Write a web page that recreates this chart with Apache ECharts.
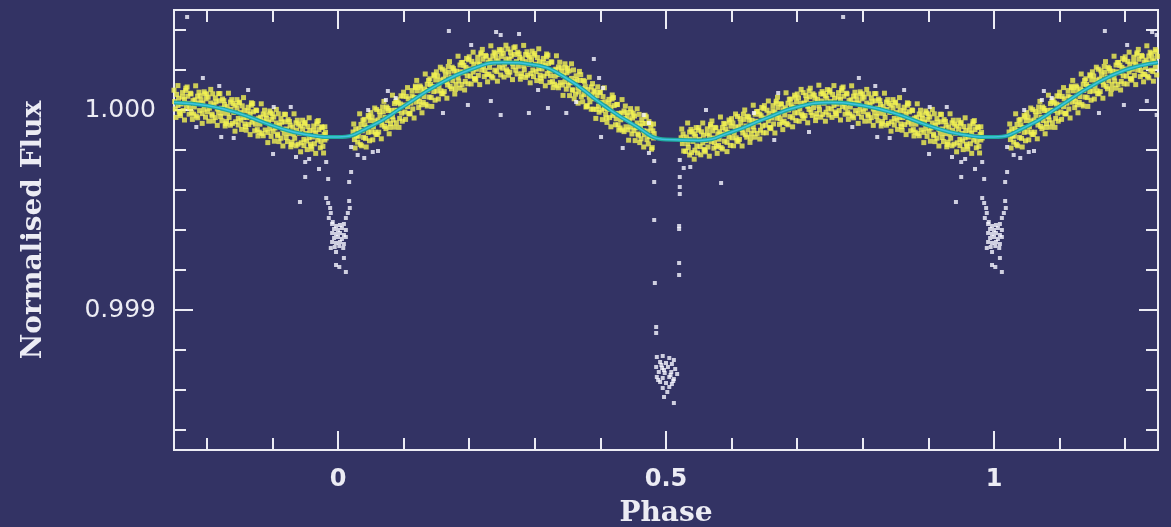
<!DOCTYPE html>
<html>
<head>
<meta charset="utf-8">
<script src="https://cdn.jsdelivr.net/npm/echarts@6/dist/echarts.min.js"></script>
<style>
html,body{margin:0;padding:0;background:#333364;}
#chart{width:1171px;height:527px;}
</style>
</head>
<body>
<div id="chart"></div>
<script>
// Model light curve (phase, normalised flux minus 1 in ppm)
const curvePhase = [-0.25,-0.2,-0.15,-0.1,-0.05,0,0.05,0.1,0.15,0.2,0.25,0.3,0.35,0.4,0.45,0.5,0.55,0.6,0.65,0.7,0.75,0.8,0.85,0.9,0.95,1,1.05,1.1,1.15,1.2,1.25];
const curvePpm = [37,22,-18,-78,-122,-135,-82,18,122,200,238,225,155,35,-72,-148,-152,-110,-45,15,37,22,-18,-78,-122,-135,-82,18,122,200,238];

// Out-of-eclipse observations (phase, flux - 1 in ppm), phases -0.25 .. 0.75
const bandPoints = [
[-0.249,42],[-0.248,5],[-0.246,78],[-0.244,23],[-0.243,59],[-0.241,-18],
[-0.239,30],[-0.237,65],[-0.236,-3],[-0.234,52],[-0.232,98],[-0.231,18],
[-0.229,69],[-0.228,33],[-0.226,10],[-0.225,84],[-0.223,-13],[-0.221,47],
[-0.219,15],[-0.218,51],[-0.216,-30],[-0.214,69],[-0.213,34],[-0.211,-3],
[-0.209,50],[-0.207,-18],[-0.206,34],[-0.204,4],[-0.203,81],[-0.201,56],
[-0.199,-9],[-0.198,64],[-0.196,9],[-0.194,35],[-0.192,-21],[-0.191,81],
[-0.189,26],[-0.187,-38],[-0.186,41],[-0.184,5],[-0.182,-14],[-0.181,46],
[-0.179,-33],[-0.178,9],[-0.176,55],[-0.175,-16],[-0.173,27],[-0.171,-69],
[-0.169,17],[-0.168,-16],[-0.166,-37],[-0.164,40],[-0.163,3],[-0.161,-67],
[-0.159,-12],[-0.157,24],[-0.156,-59],[-0.154,10],[-0.152,-42],[-0.151,35],
[-0.149,-13],[-0.148,-51],[-0.146,21],[-0.144,-37],[-0.143,-2],[-0.141,-83],
[-0.139,-38],[-0.137,-5],[-0.136,-73],[-0.134,-21],[-0.132,24],[-0.131,-61],
[-0.129,-9],[-0.128,-46],[-0.126,-71],[-0.125,0],[-0.123,-98],[-0.121,-41],
[-0.119,-71],[-0.118,-36],[-0.116,-118],[-0.114,-20],[-0.113,-55],[-0.111,-100],
[-0.109,-42],[-0.107,-112],[-0.106,-61],[-0.104,-91],[-0.103,-15],[-0.101,-47],
[-0.099,-107],[-0.098,-35],[-0.096,-90],[-0.094,-65],[-0.092,-121],[-0.091,-19],
[-0.089,-76],[-0.087,-141],[-0.086,-61],[-0.084,-96],[-0.082,-116],[-0.081,-59],
[-0.079,-138],[-0.078,-95],[-0.076,-48],[-0.075,-118],[-0.073,-76],[-0.071,-173],
[-0.069,-86],[-0.068,-120],[-0.066,-141],[-0.064,-64],[-0.063,-101],[-0.061,-171],
[-0.059,-116],[-0.057,-80],[-0.056,-164],[-0.054,-95],[-0.052,-147],[-0.051,-69],
[-0.049,-117],[-0.048,-155],[-0.046,-83],[-0.044,-139],[-0.043,-103],[-0.041,-181],
[-0.039,-135],[-0.037,-101],[-0.036,-169],[-0.034,-115],[-0.032,-70],[-0.031,-150],
[-0.029,-98],[-0.028,-134],[-0.026,-158],[-0.025,-84],[-0.023,-182],[-0.021,-122],
[-0.020,-150],[-0.019,-112],[-0.018,-140],
[0.023,-110],[0.025,-148],[0.027,-95],[0.028,-130],
[0.031,-131],[0.032,-94],[0.034,-172],[0.035,-72],[0.037,-104],[0.039,-137],
[0.041,-74],[0.042,-142],[0.044,-88],[0.046,-112],[0.047,-35],[0.049,-53],
[0.051,-109],[0.052,-36],[0.054,-84],[0.056,-55],[0.057,-111],[0.059,2],
[0.061,-50],[0.062,-111],[0.064,-27],[0.066,-59],[0.067,-75],[0.069,-9],
[0.071,-82],[0.072,-37],[0.074,15],[0.075,-53],[0.077,-3],[0.079,-87],
[0.081,-2],[0.083,-33],[0.084,-50],[0.086,32],[0.087,-1],[0.089,-64],
[0.091,-3],[0.092,36],[0.094,-42],[0.095,30],[0.097,-16],[0.099,69],
[0.101,25],[0.102,-10],[0.104,68],[0.106,17],[0.107,56],[0.109,-17],
[0.111,34],[0.113,71],[0.114,5],[0.116,63],[0.118,112],[0.119,39],
[0.121,96],[0.122,60],[0.124,43],[0.125,120],[0.127,26],[0.129,90],
[0.131,67],[0.132,105],[0.134,28],[0.136,129],[0.137,98],[0.139,65],
[0.141,128],[0.142,62],[0.144,118],[0.146,92],[0.147,171],[0.149,150],
[0.151,95],[0.152,170],[0.154,119],[0.156,149],[0.157,96],[0.159,204],
[0.161,154],[0.162,92],[0.164,175],[0.166,141],[0.167,125],[0.169,189],
[0.171,118],[0.172,163],[0.174,214],[0.175,146],[0.177,195],[0.179,103],
[0.181,194],[0.183,164],[0.184,145],[0.186,225],[0.187,191],[0.189,128],
[0.191,186],[0.192,223],[0.194,143],[0.195,213],[0.197,171],[0.199,251],
[0.201,205],[0.202,169],[0.204,243],[0.206,190],[0.207,229],[0.209,155],
[0.211,204],[0.213,241],[0.214,173],[0.216,229],[0.218,279],[0.219,200],
[0.221,254],[0.222,219],[0.224,197],[0.225,273],[0.227,178],[0.229,240],
[0.231,213],[0.232,249],[0.234,169],[0.236,270],[0.237,235],[0.239,199],
[0.241,259],[0.242,192],[0.244,245],[0.246,215],[0.247,292],[0.249,268],
[0.251,209],[0.252,283],[0.254,229],[0.256,256],[0.257,201],[0.259,305],
[0.261,252],[0.262,189],[0.264,269],[0.266,234],[0.267,216],[0.269,278],
[0.271,199],[0.272,242],[0.274,289],[0.275,219],[0.277,263],[0.279,168],
[0.281,255],[0.283,221],[0.284,201],[0.286,278],[0.287,242],[0.289,174],
[0.291,229],[0.292,265],[0.294,182],[0.295,251],[0.297,200],[0.299,274],
[0.301,229],[0.302,192],[0.304,262],[0.306,207],[0.307,241],[0.309,160],
[0.311,205],[0.313,238],[0.314,169],[0.316,222],[0.318,266],[0.319,182],
[0.321,233],[0.322,197],[0.324,171],[0.325,241],[0.327,142],[0.329,199],
[0.331,169],[0.332,204],[0.334,121],[0.336,215],[0.337,177],[0.339,137],
[0.341,194],[0.342,125],[0.344,173],[0.346,142],[0.347,211],[0.349,186],
[0.351,124],[0.352,195],[0.354,136],[0.356,158],[0.357,101],[0.359,200],
[0.361,142],[0.362,79],[0.364,151],[0.366,112],[0.367,90],[0.369,148],
[0.371,66],[0.372,106],[0.374,148],[0.375,77],[0.377,117],[0.379,18],
[0.381,102],[0.383,64],[0.384,41],[0.386,115],[0.387,76],[0.389,4],
[0.391,56],[0.392,90],[0.394,3],[0.395,71],[0.397,19],[0.399,90],
[0.401,38],[0.402,-1],[0.404,67],[0.406,8],[0.407,41],[0.409,-40],
[0.411,3],[0.413,34],[0.414,-38],[0.416,12],[0.418,55],[0.419,-27],
[0.421,22],[0.422,-17],[0.424,-44],[0.425,28],[0.427,-74],[0.429,-17],
[0.431,-49],[0.432,-15],[0.434,-100],[0.436,-5],[0.437,-43],[0.439,-84],
[0.441,-29],[0.442,-99],[0.444,-51],[0.446,-85],[0.447,-11],[0.449,-40],
[0.451,-103],[0.452,-30],[0.454,-89],[0.456,-65],[0.457,-120],[0.459,-22],
[0.461,-80],[0.462,-144],[0.464,-67],[0.466,-104],[0.467,-123],[0.469,-67],
[0.471,-148],[0.472,-106],[0.474,-58],[0.475,-133],[0.477,-91],[0.479,-188],
[0.480,-104],[0.481,-140],[0.482,-118],
[0.523,-139],[0.525,-168],[0.526,-120],[0.528,-150],
[0.531,-135],[0.533,-168],[0.534,-188],[0.536,-110],[0.537,-146],[0.539,-213],
[0.541,-157],[0.543,-120],[0.544,-201],[0.545,-131],[0.547,-180],[0.549,-101],
[0.551,-147],[0.552,-183],[0.554,-109],[0.556,-164],[0.557,-126],[0.559,-202],
[0.561,-153],[0.563,-118],[0.564,-185],[0.566,-128],[0.568,-81],[0.569,-159],
[0.571,-104],[0.572,-140],[0.574,-163],[0.575,-87],[0.577,-183],[0.579,-119],
[0.581,-146],[0.582,-109],[0.584,-188],[0.586,-88],[0.587,-122],[0.589,-156],
[0.591,-96],[0.593,-162],[0.594,-111],[0.596,-136],[0.597,-61],[0.599,-81],
[0.601,-139],[0.602,-65],[0.604,-115],[0.606,-85],[0.607,-139],[0.609,-32],
[0.611,-85],[0.612,-147],[0.614,-65],[0.616,-98],[0.617,-115],[0.619,-47],
[0.621,-124],[0.622,-80],[0.624,-31],[0.625,-98],[0.627,-51],[0.629,-140],
[0.631,-51],[0.633,-83],[0.634,-102],[0.636,-21],[0.637,-56],[0.639,-117],
[0.641,-60],[0.643,-21],[0.644,-101],[0.645,-29],[0.647,-80],[0.649,7],
[0.651,-40],[0.652,-76],[0.654,-1],[0.656,-54],[0.657,-18],[0.659,-89],
[0.661,-40],[0.663,-3],[0.664,-70],[0.666,-11],[0.668,35],[0.669,-41],
[0.671,13],[0.672,-22],[0.674,-44],[0.675,31],[0.677,-63],[0.679,1],
[0.681,-25],[0.682,11],[0.684,-68],[0.686,34],[0.687,0],[0.689,-33],
[0.691,27],[0.693,-39],[0.694,14],[0.696,-14],[0.697,64],[0.699,41],
[0.701,-14],[0.702,60],[0.704,7],[0.706,34],[0.707,-20],[0.709,87],
[0.711,34],[0.712,-28],[0.714,53],[0.716,19],[0.718,3],[0.719,66],
[0.721,-12],[0.722,32],[0.724,81],[0.725,12],[0.727,59],[0.729,-35],
[0.731,53],[0.733,21],[0.734,1],[0.736,80],[0.737,45],[0.739,-22],
[0.741,34],[0.743,71],[0.744,-11],[0.745,59],[0.747,9],[0.749,89]
];
// Wider-scattered out-of-eclipse observations (phase, flux - 1 in ppm)
const bandEdgePoints = [
[-0.250,99],[-0.247,-37],[-0.244,122],[-0.242,-10],
[-0.240,-28],[-0.237,87],[-0.234,-50],[-0.232,109],
[-0.230,115],[-0.227,-21],[-0.224,80],[-0.222,-47],
[-0.220,-21],[-0.217,121],[-0.214,-39],[-0.212,89],
[-0.210,71],[-0.207,-67],[-0.204,91],[-0.202,-36],
[-0.200,80],[-0.197,-56],[-0.194,103],[-0.192,-29],
[-0.190,-55],[-0.187,60],[-0.184,-77],[-0.182,82],
[-0.180,82],[-0.177,-54],[-0.174,47],[-0.172,-80],
[-0.170,-58],[-0.167,84],[-0.164,-76],[-0.162,52],
[-0.160,32],[-0.157,-106],[-0.154,52],[-0.152,-75],
[-0.150,39],[-0.147,-97],[-0.144,62],[-0.142,-70],
[-0.140,-101],[-0.137,14],[-0.134,-123],[-0.132,36],
[-0.130,32],[-0.127,-104],[-0.124,-3],[-0.122,-130],
[-0.120,-111],[-0.117,31],[-0.114,-129],[-0.112,-1],
[-0.110,-25],[-0.107,-163],[-0.104,-5],[-0.102,-132],
[-0.100,-20],[-0.097,-156],[-0.094,3],[-0.092,-129],
[-0.090,-158],[-0.087,-43],[-0.084,-180],[-0.082,-21],
[-0.080,-22],[-0.077,-158],[-0.074,-57],[-0.072,-184],
[-0.070,-161],[-0.067,-19],[-0.064,-179],[-0.062,-51],
[-0.060,-71],[-0.057,-209],[-0.054,-51],[-0.052,-178],
[-0.050,-62],[-0.047,-198],[-0.044,-39],[-0.042,-171],
[-0.040,-195],[-0.037,-80],[-0.034,-217],[-0.032,-58],
[-0.030,-53],[-0.027,-189],[-0.024,-88],[-0.022,-215],
[-0.020,-84],[0.024,-70],[0.026,-190],
[0.030,-161],[0.033,-19],[0.036,-179],[0.038,-51],
[0.040,-47],[0.043,-185],[0.046,-27],[0.048,-154],
[0.050,-13],[0.053,-149],[0.056,10],[0.058,-122],
[0.060,-122],[0.063,-7],[0.066,-144],[0.068,15],
[0.070,43],[0.073,-93],[0.076,8],[0.078,-119],
[0.080,-68],[0.083,74],[0.086,-86],[0.088,42],
[0.090,51],[0.093,-87],[0.096,71],[0.098,-56],
[0.100,89],[0.103,-47],[0.106,112],[0.108,-20],
[0.110,-18],[0.113,97],[0.116,-40],[0.118,119],
[0.120,148],[0.123,12],[0.126,113],[0.128,-14],
[0.130,38],[0.133,180],[0.136,20],[0.138,148],
[0.140,156],[0.143,18],[0.146,176],[0.148,49],
[0.150,191],[0.153,55],[0.156,214],[0.158,82],
[0.160,81],[0.163,196],[0.166,59],[0.168,218],
[0.170,242],[0.173,106],[0.176,207],[0.178,80],
[0.180,127],[0.183,269],[0.186,109],[0.188,237],
[0.190,238],[0.193,100],[0.196,258],[0.198,131],
[0.200,266],[0.203,130],[0.206,289],[0.208,157],
[0.210,149],[0.213,264],[0.216,127],[0.218,286],
[0.220,303],[0.223,167],[0.226,268],[0.228,141],
[0.230,179],[0.233,321],[0.236,161],[0.238,289],
[0.240,282],[0.243,144],[0.246,302],[0.248,175],
[0.250,301],[0.253,165],[0.256,324],[0.258,192],
[0.260,174],[0.263,289],[0.266,152],[0.268,311],
[0.270,316],[0.273,180],[0.276,281],[0.278,154],
[0.280,181],[0.283,323],[0.286,163],[0.288,291],
[0.290,274],[0.293,136],[0.296,294],[0.298,167],
[0.300,283],[0.303,147],[0.306,306],[0.308,174],
[0.310,143],[0.313,258],[0.316,121],[0.318,280],
[0.320,274],[0.323,138],[0.326,239],[0.328,112],
[0.330,129],[0.333,271],[0.336,111],[0.338,239],
[0.340,211],[0.343,73],[0.346,231],[0.348,104],
[0.350,208],[0.353,72],[0.356,231],[0.358,99],
[0.360,56],[0.363,171],[0.366,34],[0.368,193],
[0.370,177],[0.373,41],[0.376,142],[0.378,15],
[0.380,22],[0.383,164],[0.386,4],[0.388,132],
[0.390,96],[0.393,-42],[0.396,116],[0.398,-11],
[0.400,88],[0.403,-48],[0.406,111],[0.408,-21],
[0.410,-62],[0.413,53],[0.416,-84],[0.418,75],
[0.420,62],[0.423,-74],[0.426,27],[0.428,-100],
[0.430,-90],[0.433,52],[0.436,-108],[0.438,20],
[0.440,-13],[0.443,-151],[0.446,7],[0.448,-120],
[0.450,-17],[0.453,-153],[0.456,6],[0.458,-126],
[0.460,-163],[0.463,-48],[0.466,-185],[0.468,-26],
[0.470,-34],[0.473,-170],[0.476,-69],[0.478,-196],
[0.481,-70],[0.524,-95],[0.527,-205],
[0.530,-207],[0.533,-65],[0.536,-225],[0.538,-97],
[0.540,-108],[0.543,-246],[0.546,-88],[0.548,-215],
[0.550,-88],[0.553,-224],[0.556,-65],[0.558,-197],
[0.560,-209],[0.563,-94],[0.566,-231],[0.568,-72],
[0.570,-55],[0.573,-191],[0.576,-90],[0.578,-217],
[0.580,-177],[0.583,-35],[0.586,-195],[0.588,-67],
[0.590,-70],[0.593,-208],[0.596,-50],[0.598,-177],
[0.600,-43],[0.603,-179],[0.606,-20],[0.608,-152],
[0.610,-158],[0.613,-43],[0.616,-180],[0.618,-21],
[0.620,0],[0.623,-136],[0.626,-35],[0.628,-162],
[0.630,-118],[0.633,24],[0.636,-136],[0.638,-8],
[0.640,-7],[0.643,-145],[0.646,13],[0.648,-114],
[0.650,22],[0.653,-114],[0.656,45],[0.658,-87],
[0.660,-93],[0.663,22],[0.666,-115],[0.668,44],
[0.670,64],[0.673,-72],[0.676,29],[0.678,-98],
[0.680,-56],[0.683,86],[0.686,-74],[0.688,54],
[0.690,54],[0.693,-84],[0.696,74],[0.698,-53],
[0.700,80],[0.703,-56],[0.706,103],[0.708,-29],
[0.710,-42],[0.713,73],[0.716,-64],[0.718,95],
[0.720,109],[0.723,-27],[0.726,74],[0.728,-53],
[0.730,-18],[0.733,124],[0.736,-36],[0.738,92],
[0.740,82],[0.743,-56],[0.746,102],[0.748,-25]
];

// In-eclipse and rejected observations (phase, flux - 1 in ppm)
const eclipsePoints = [
[-0.064,-235],[-0.050,-260],[-0.044,-245],[-0.029,-295],[-0.018,-260],[-0.050,-335],[-0.015,-345],
[0.020,-310],[0.017,-360],[0.020,-185],[0.030,-225],[0.040,-240],[0.053,-210],[0.061,-205],[-0.058,-460],
[-0.018,-440],[-0.015,-465],[-0.012,-490],[-0.011,-515],[-0.014,-540],[-0.008,-560],
[0.017,-455],[0.018,-490],[0.015,-515],[0.012,-540],
[-0.009,-570],[-0.003,-580],[0.003,-575],[0.009,-570],[-0.006,-595],[0.000,-600],[0.006,-590],[0.012,-600],
[-0.009,-615],[-0.003,-620],[0.003,-615],[0.009,-625],[-0.006,-640],[0.000,-635],[0.006,-645],[0.012,-635],
[-0.009,-660],[-0.003,-665],[0.003,-660],[0.009,-670],[-0.005,-685],[0.002,-680],[0.008,-690],[-0.011,-690],
[-0.003,-710],[0.009,-740],[-0.003,-775],[0.002,-785],[0.012,-810],
[0.474,-215],[0.482,-255],[0.482,-360],[0.521,-250],[0.527,-290],[0.537,-285],[0.521,-335],[0.521,-385],
[0.521,-420],[0.482,-550],[0.520,-580],[0.520,-595],[0.520,-765],[0.520,-825],[0.483,-865],[0.485,-1085],[0.485,-1115],
[0.486,-1235],[0.495,-1230],[0.505,-1240],[0.512,-1250],[0.491,-1260],[0.500,-1265],[0.509,-1270],
[0.485,-1285],[0.494,-1290],[0.503,-1285],[0.514,-1295],[0.489,-1310],[0.498,-1315],[0.508,-1310],[0.517,-1320],
[0.486,-1335],[0.495,-1340],[0.505,-1335],[0.512,-1345],[0.491,-1360],[0.500,-1365],[0.509,-1370],
[0.488,-1350],[0.497,-1300],[0.511,-1355],[0.493,-1275],[0.507,-1325],
[0.495,-1390],[0.505,-1385],[0.502,-1410],[0.497,-1435],[0.512,-1465]
];
const outlierPoints = [
[-0.230,465],[-0.206,160],[-0.181,120],[-0.137,100],[-0.098,15],[-0.072,15],[-0.216,-85],[-0.178,-135],
[-0.159,-140],[-0.099,-220],[0.076,95],[0.088,60],[0.073,50],[0.046,0],
[0.169,395],[0.241,390],[0.248,375],[0.276,380],[0.203,325],[0.390,255],[0.398,160],[0.404,110],
[0.198,25],[0.233,45],[0.248,-25],[0.160,-15],[0.291,-15],[0.320,10],[0.348,-15],[0.363,40],[0.305,100],
[0.401,-135],[0.434,-190],[0.466,-25],[0.474,-65],[0.561,0],[0.634,-15],[0.671,85],[0.584,-365],
[0.665,-150],[0.718,-110]
];

const xMajor = [0, 0.5, 1];
const xMinor = [-0.2,-0.1,0.1,0.2,0.3,0.4,0.6,0.7,0.8,0.9,1.1,1.2];
const yMajor = [0.999, 1.000];
const yMinor = [0.9984,0.9986,0.9988,0.9992,0.9994,0.9996,0.9998,1.0002,1.0004];

const toFlux = ppm => 1 + ppm / 1e6;
function fold(pts) {
  const out = pts.map(p => [p[0], toFlux(p[1])]);
  pts.forEach(p => { if (p[0] < 0.25) out.push([p[0] + 1, toFlux(p[1])]); });
  return out;
}
const curveData = curvePhase.map((p, i) => [p, toFlux(curvePpm[i])]);

const FG = '#ececf4';
function xAx(pos, ticks, len, major) {
  return {
    type: 'value', position: pos, min: -0.25, max: 1.25,
    axisLine: { show: true, onZero: false, lineStyle: { color: FG, width: 2 } },
    axisTick: { show: true, inside: true, length: len, customValues: ticks, lineStyle: { color: FG, width: 2 } },
    axisLabel: (major && pos === 'bottom') ? {
      show: true, customValues: ticks, margin: 18, color: FG,
      fontFamily: 'DejaVu Sans', fontWeight: 'bold', fontSize: 24,
      formatter: v => String(v)
    } : { show: false },
    splitLine: { show: false },
    name: (major && pos === 'bottom') ? 'Phase' : '',
    nameLocation: 'middle', nameGap: 50,
    nameTextStyle: { color: FG, fontFamily: 'DejaVu Serif', fontWeight: 'bold', fontSize: 28 }
  };
}
function yAx(pos, ticks, len, major) {
  return {
    type: 'value', position: pos, min: 0.9983, max: 1.0005,
    axisLine: { show: true, onZero: false, lineStyle: { color: FG, width: 2 } },
    axisTick: { show: true, inside: true, length: len, customValues: ticks, lineStyle: { color: FG, width: 2 } },
    axisLabel: (major && pos === 'left') ? {
      show: true, customValues: ticks, margin: 18, color: FG,
      fontFamily: 'DejaVu Sans', fontSize: 25,
      formatter: v => v.toFixed(3)
    } : { show: false },
    splitLine: { show: false },
    name: (major && pos === 'left') ? 'Normalised Flux' : '',
    nameLocation: 'middle', nameGap: 126, nameRotate: 90,
    nameTextStyle: { color: FG, fontFamily: 'DejaVu Serif', fontWeight: 'bold', fontSize: 28 }
  };
}

const chart = echarts.init(document.getElementById('chart'), null, { renderer: 'canvas' });
chart.setOption({
  backgroundColor: '#333364',
  animation: false,
  grid: { left: 174, right: 13, top: 10, bottom: 77, containLabel: false, outerBoundsMode: 'none' },
  xAxis: [xAx('bottom', xMajor, 19, true), xAx('bottom', xMinor, 12, false), xAx('top', xMajor, 19, true), xAx('top', xMinor, 12, false)],
  yAxis: [yAx('left', yMajor, 19, true), yAx('left', yMinor, 12, false), yAx('right', yMajor, 19, true), yAx('right', yMinor, 12, false)],
  series: [
    { type: 'scatter', data: fold(bandEdgePoints), symbol: 'rect', symbolSize: 5, itemStyle: { color: '#f2f252' }, silent: true, z: 2 },
    { type: 'scatter', data: fold(bandPoints), symbol: 'rect', symbolSize: 5, itemStyle: { color: '#f2f252' }, silent: true, z: 2 },
    { type: 'scatter', data: fold(eclipsePoints), symbol: 'rect', symbolSize: 4, itemStyle: { color: '#f6f6ff' }, silent: true, z: 3 },
    { type: 'scatter', data: fold(outlierPoints), symbol: 'rect', symbolSize: 4, itemStyle: { color: '#f6f6ff' }, silent: true, z: 3 },
    { type: 'line', data: curveData, smooth: 0.5, showSymbol: false, silent: true, z: 4, lineStyle: { width: 4, color: '#1fa99c' } },
    { type: 'line', data: curveData, smooth: 0.5, showSymbol: false, silent: true, z: 5, lineStyle: { width: 1.5, color: '#3fc3e2' } }
  ]
});
</script>
</body>
</html>
